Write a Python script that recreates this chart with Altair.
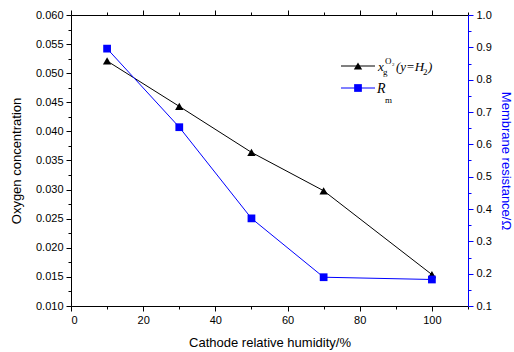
import altair as alt
import pandas as pd

humidity = [10, 30, 50, 70, 100]
oxygen = [0.0521, 0.0443, 0.0364, 0.0298, 0.0154]
resistance = [0.896, 0.653, 0.371, 0.189, 0.182]

x_ticks = [0, 10, 20, 30, 40, 50, 60, 70, 80, 90, 100, 110]
o_ticks = [round(0.010 + 0.0025 * i, 4) for i in range(21)]
r_ticks = [round(0.1 + 0.05 * i, 2) for i in range(19)]

df = pd.DataFrame({"h": humidity, "o": oxygen, "r": resistance})

FONT = "Liberation Sans"
SERIF = "Liberation Serif"
BLUE = "#0000ff"

xscale = alt.Scale(domain=[0, 110], nice=False, zero=False)
oscale = alt.Scale(domain=[0.010, 0.060], nice=False, zero=False)
rscale = alt.Scale(domain=[0.1, 1.0], nice=False, zero=False)

common = dict(labelFont=FONT, titleFont=FONT, labelFontSize=11, titleFontSize=13,
              titleFontWeight="normal", grid=False, domainWidth=1, tickWidth=1,
              labelColor="black", titleColor="black")

bottom_axis = alt.Axis(
    orient="bottom", values=x_ticks, title="Cathode relative humidity/%",
    labelExpr="datum.value % 20 === 0 && datum.value <= 100 ? datum.label : ''",
    tickSize={"condition": {"test": "datum.value % 20 === 0", "value": 5}, "value": 3},
    domainColor="black", tickColor="black", labelPadding=3, titlePadding=11, **common)
top_axis = alt.Axis(
    orient="top", values=x_ticks, title=None, labels=False,
    tickSize={"condition": {"test": "datum.value % 20 === 0", "value": 5}, "value": 3},
    domainColor="black", tickColor="black", grid=False, domainWidth=1, tickWidth=1)
left_axis = alt.Axis(
    orient="left", values=o_ticks, title="Oxygen concentration", format=".3f",
    labelExpr="round(datum.value*10000) % 50 === 0 ? datum.label : ''",
    tickSize={"condition": {"test": "round(datum.value*10000) % 50 === 0", "value": 5}, "value": 3},
    domainColor="black", tickColor="black", labelPadding=3, titlePadding=12,
    labelOverlap=False, **common)
right_axis = alt.Axis(
    orient="right", values=r_ticks, title="Membrane resistance/Ω", format=".1f",
    labelExpr="round(datum.value*100) % 10 === 0 ? datum.label : ''",
    tickSize={"condition": {"test": "round(datum.value*100) % 10 === 0", "value": 5}, "value": 3},
    domainColor=BLUE, tickColor=BLUE, labelPadding=3, titlePadding=7,
    labelOverlap=False, **{**common, "titleColor": BLUE})

base = alt.Chart(df)

o_line = base.mark_line(color="black", strokeWidth=1).encode(
    x=alt.X("h:Q", scale=xscale, axis=bottom_axis),
    y=alt.Y("o:Q", scale=oscale, axis=left_axis))
o_pts = base.mark_point(shape="triangle-up", filled=True, color="black", size=70, opacity=1).encode(
    x=alt.X("h:Q", scale=xscale, axis=None),
    y=alt.Y("o:Q", scale=oscale, axis=None))
r_line = base.mark_line(color=BLUE, strokeWidth=1).encode(
    x=alt.X("h:Q", scale=xscale, axis=None),
    y=alt.Y("r:Q", scale=rscale, axis=right_axis))
r_pts = base.mark_point(shape="square", filled=True, color=BLUE, size=60, opacity=1).encode(
    x=alt.X("h:Q", scale=xscale, axis=None),
    y=alt.Y("r:Q", scale=rscale, axis=None))
top = base.mark_point(opacity=0).encode(
    x=alt.X("h:Q", scale=xscale, axis=top_axis))

one = pd.DataFrame({"a": [0]})


def txt(t, x, y, size, italic=True, color="black"):
    return alt.Chart(one).mark_text(
        text=t, font=SERIF, fontSize=size, fontStyle="italic" if italic else "normal",
        align="left", baseline="alphabetic", color=color).encode(
        x=alt.value(x), y=alt.value(y))


def seg(x1, x2, y, color):
    return alt.Chart(one).mark_rule(color=color, strokeWidth=1).encode(
        x=alt.value(x1), x2=alt.value(x2), y=alt.value(y))


def mk(shape, x, y, color, size):
    return alt.Chart(one).mark_point(shape=shape, filled=True, color=color, size=size, opacity=1).encode(
        x=alt.value(x), y=alt.value(y))


# legend (pixel offsets inside plot area)
L = 71
T = 15
legend = [
    seg(341 - L, 375 - L, 66 - T, "black"),
    mk("triangle-up", 358 - L, 66 - T, "black", 70),
    seg(341 - L, 375 - L, 88 - T, BLUE),
    mk("square", 358 - L, 88 - T, BLUE, 60),
    txt("x", 378 - L, 71 - T, 13),
    txt("g", 383 - L, 75 - T, 9, italic=False),
    txt("O", 385 - L, 64 - T, 9, italic=False),
    txt("2", 392 - L, 66 - T, 5, italic=False),
    txt("(y=H", 396 - L, 71 - T, 13),
    txt("2", 423 - L, 75 - T, 9, italic=False),
    txt(")", 428 - L, 71 - T, 13),
    txt("R", 377 - L, 93 - T, 14),
    txt("m", 385 - L, 103 - T, 9, italic=False),
]

chart = alt.layer(o_line, o_pts, r_line, r_pts, top, *legend).resolve_scale(
    y="independent").resolve_axis(x="independent", y="independent").properties(
    width=397, height=291,
    padding={"left": 71, "top": 15, "right": 46, "bottom": 46},
    autosize=alt.AutoSizeParams(type="none"),
    background="white",
).configure_view(stroke=None)

chart.save("out.html", embed_options={"renderer": "svg", "actions": False})
